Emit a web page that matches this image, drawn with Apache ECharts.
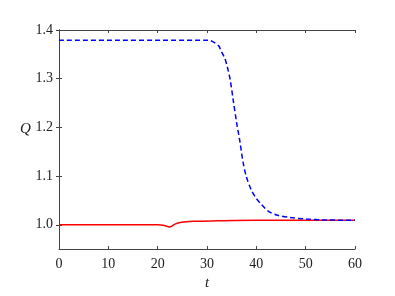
<!DOCTYPE html>
<html><head><meta charset="utf-8">
<script src="https://cdn.jsdelivr.net/npm/echarts@6/dist/echarts.min.js"></script>
<style>html,body{margin:0;padding:0;background:#fff}#c{width:395px;height:296px}</style>
</head><body><div id="c"></div>
<script>
var tBlue = [0, 30, 30.6, 31.6, 32.4, 32.9, 33.6, 34.1, 34.7, 35.3, 36.0, 36.7, 37.3, 38.0, 39.0, 40.0, 41.1, 42.4, 44.1, 46.8, 50.2, 53.6, 60];
var qBlue = [1.379, 1.379, 1.3785, 1.3735, 1.367, 1.356, 1.342, 1.325, 1.298, 1.257, 1.210, 1.169, 1.129, 1.098, 1.071, 1.054, 1.041, 1.028, 1.020, 1.015, 1.0116, 1.010, 1.009];
var tRed = [0, 20, 21.1, 22.5, 23.5, 24.8, 27.2, 31.9, 40, 60];
var qRed = [1.0, 1.0, 0.999, 0.9953, 1.0014, 1.005, 1.007, 1.008, 1.009, 1.009];
var xTicks = [0, 10, 20, 30, 40, 50, 60];
var yTicks = [1.0, 1.1, 1.2, 1.3, 1.4];

function zip(a, b) { return a.map(function (v, i) { return [v, b[i]]; }); }
var serif = "'Liberation Serif', 'DejaVu Serif', serif";
var axisCol = '#444';
var chart = echarts.init(document.getElementById('c'), null, {renderer: 'canvas'});
chart.setOption({
  animation: false,
  backgroundColor: '#fff',
  grid: {left: 59, right: 40, top: 30, bottom: 45, containLabel: false},
  xAxis: [{
    type: 'value', min: 0, max: 60, interval: 10, position: 'bottom',
    name: 't', nameLocation: 'middle', nameGap: 25,
    nameTextStyle: {fontFamily: serif, fontStyle: 'italic', fontSize: 15, color: '#222'},
    axisLine: {show: true, lineStyle: {color: axisCol, width: 1}},
    axisTick: {show: true, inside: true, length: 3, lineStyle: {color: axisCol}},
    axisLabel: {fontFamily: serif, fontSize: 14, color: '#222', margin: 8,
      formatter: function (v) { return xTicks.indexOf(v) >= 0 ? String(v) : ''; }},
    splitLine: {show: false}
  }, {
    type: 'value', min: 0, max: 60, interval: 10, position: 'top',
    axisLine: {show: true, lineStyle: {color: axisCol, width: 1}},
    axisTick: {show: true, inside: true, length: 3, lineStyle: {color: axisCol}},
    axisLabel: {show: false}, splitLine: {show: false}
  }],
  yAxis: [{
    type: 'value', min: 0.95, max: 1.4, position: 'left',
    axisLine: {show: true, lineStyle: {color: axisCol, width: 1}},
    axisTick: {show: true, inside: true, length: 3, lineStyle: {color: axisCol}, customValues: yTicks},
    axisLabel: {fontFamily: serif, fontSize: 14, color: '#222', margin: 6,
      customValues: yTicks,
      formatter: function (v) { return v.toFixed(1); }},
    splitLine: {show: false}
  }, {
    type: 'value', min: 0.95, max: 1.4, position: 'right',
    axisLine: {show: true, lineStyle: {color: axisCol, width: 1}},
    axisTick: {show: true, inside: true, length: 3, lineStyle: {color: axisCol}, customValues: yTicks},
    axisLabel: {show: false, customValues: yTicks}, splitLine: {show: false}
  }],
  graphic: [{
    type: 'text', left: 20, top: 122,
    style: {text: 'Q', fontFamily: serif, fontStyle: 'italic', fontSize: 15, fill: '#222'}
  }],
  series: [{
    type: 'line', data: zip(tRed, qRed), xAxisIndex: 0, yAxisIndex: 0,
    smooth: 0.3, showSymbol: false,
    lineStyle: {color: '#ff0000', width: 1.5}
  }, {
    type: 'line', data: zip(tBlue, qBlue), xAxisIndex: 0, yAxisIndex: 0,
    smooth: 0.3, showSymbol: false,
    lineStyle: {color: '#0000ff', width: 1.5, type: [5, 3]}
  }]
});
</script></body></html>
